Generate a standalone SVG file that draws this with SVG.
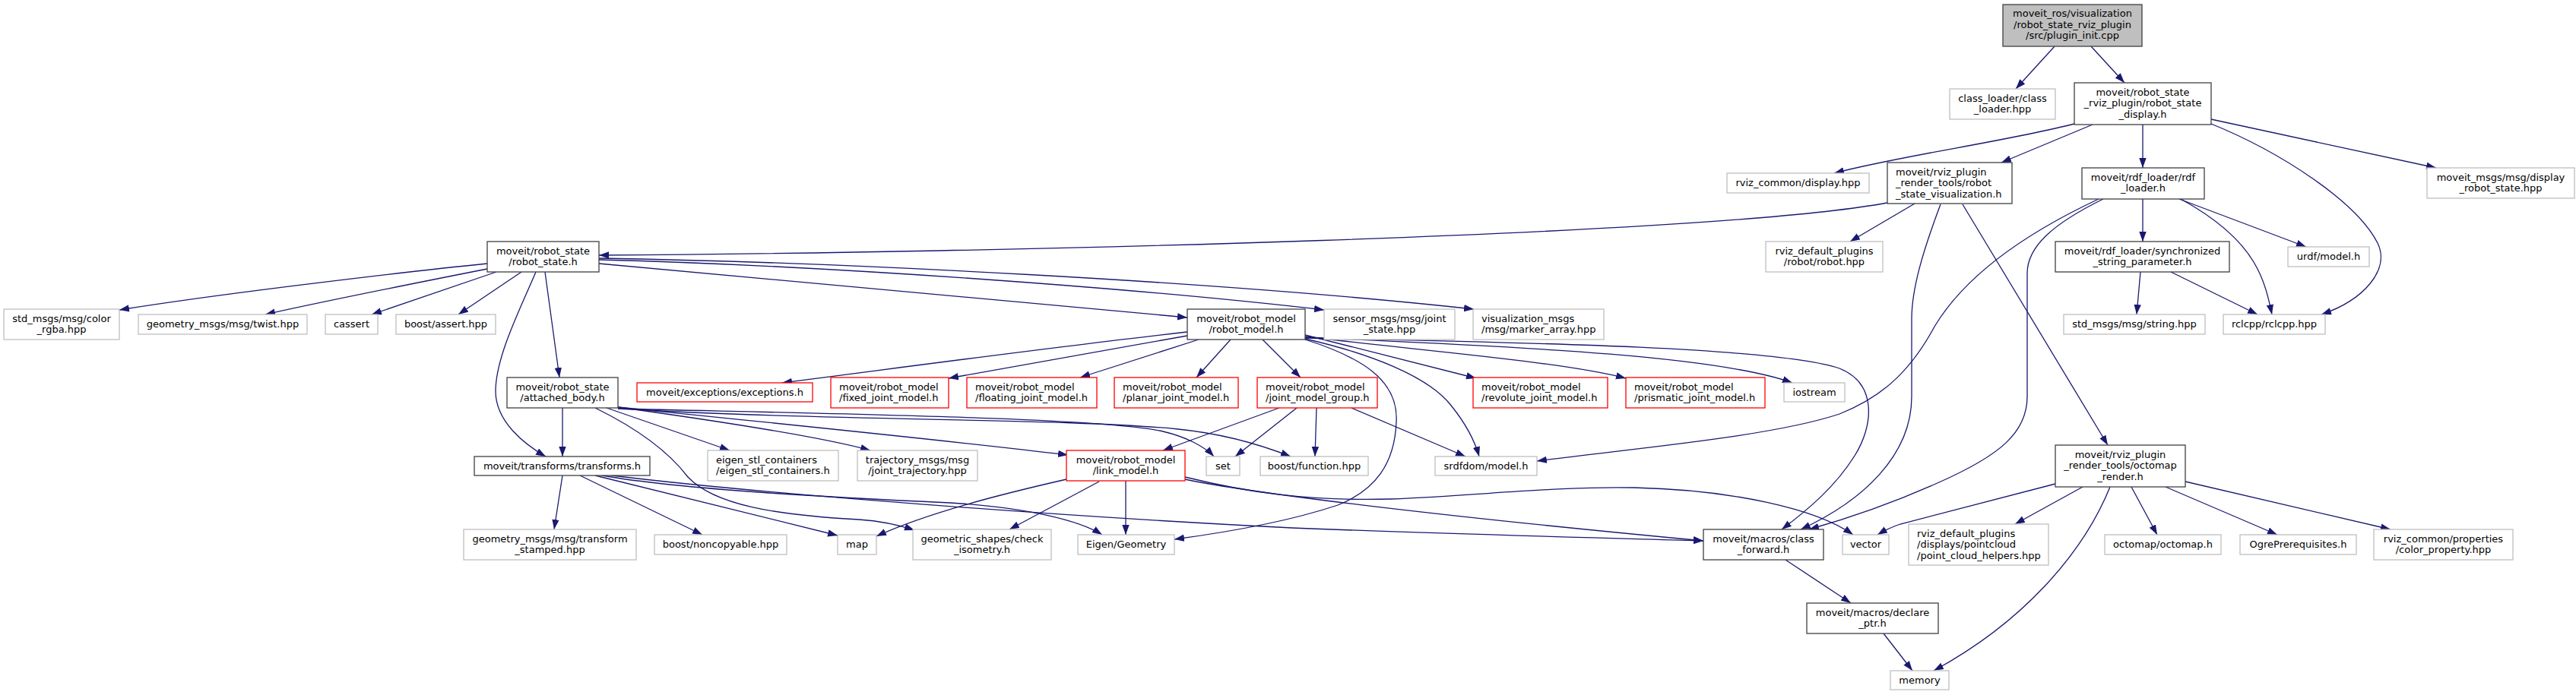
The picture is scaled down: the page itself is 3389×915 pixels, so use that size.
<svg xmlns="http://www.w3.org/2000/svg" width="3389" height="915" viewBox="0 0 3389 915">
<defs>
<style>
.n rect{fill:#fff;stroke:#404040;stroke-width:1.3}
.n.g rect{stroke:#bfbfbf}
.n.r rect{stroke:#ff0000}
.n.root rect{fill:#bfbfbf}
text{font-family:"DejaVu Sans","Liberation Sans",sans-serif;font-size:13px;fill:#000}
.c text{text-anchor:middle}
#edges path{fill:none;stroke:#191970;stroke-width:1.3;marker-end:url(#arr)}
</style>
<marker id="arr" markerUnits="userSpaceOnUse" markerWidth="14" markerHeight="10" refX="13" refY="4.7" orient="auto"><path d="M0,0L13,4.7L0,9.4z" fill="#191970"/></marker>
</defs>
<rect width="3389" height="915" fill="#fff"/>
<g id="edges">
<path d="M2703,61 L2652,117"/>
<path d="M2751,61 L2795,109"/>
<path d="M2729,163 C2640,186 2500,205 2413,228"/>
<path d="M2753,164 L2633,214"/>
<path d="M2819,164 L2819,221"/>
<path d="M2909,157 L3205,221"/>
<path d="M2909,163 C3000,200 3100,265 3128,320 C3145,355 3110,395 3054,414"/>
<path d="M2819,262 L2819,318"/>
<path d="M2867,262 L3034,325"/>
<path d="M2869,262 C2920,290 2950,320 2965,345 C2980,370 2985,395 2989,414"/>
<path d="M2761,262 C2680,300 2590,355 2545,430 C2510,495 2470,525 2420,545 C2330,575 2150,590 2022,607"/>
<path d="M2767,262 C2700,295 2667,325 2667,360 L2667,522 C2667,570 2630,600 2551,635 C2500,658 2440,680 2380,697"/>
<path d="M2483,267 C2250,310 1300,333 788,336"/>
<path d="M2519,268 L2434,318"/>
<path d="M2553,269 C2530,330 2515,380 2515,420 L2515,522 C2515,600 2450,660 2369,697"/>
<path d="M2582,269 L2773,586"/>
<path d="M2816,358 L2811,414"/>
<path d="M2856,358 L2970,414"/>
<path d="M641,347 C560,355 300,385 157,408"/>
<path d="M641,354 C560,370 420,398 349,414"/>
<path d="M653,358 L489,414"/>
<path d="M686,358 L603,414"/>
<path d="M705,358 C685,405 652,470 652,515 C652,555 690,585 718,601"/>
<path d="M717,358 L736,497"/>
<path d="M788,347 L1562,418"/>
<path d="M788,342 C1100,350 1500,380 1742,408"/>
<path d="M788,340 C1100,345 1600,370 1939,407"/>
<path d="M1562,437 C1400,455 1200,482 1029,504"/>
<path d="M1562,442 L1248,498"/>
<path d="M1577,447 L1421,497"/>
<path d="M1619,447 L1574,497"/>
<path d="M1661,447 L1711,497"/>
<path d="M1717,441 L1942,498"/>
<path d="M1717,443 C1850,460 2050,475 2139,498"/>
<path d="M1717,444 C1950,455 2250,465 2358,504"/>
<path d="M1717,446 C1800,465 1880,495 1910,535 C1930,560 1940,580 1946,601"/>
<path d="M1717,447 C1790,470 1840,500 1837,555 C1835,610 1810,645 1760,665 C1700,685 1620,700 1545,710"/>
<path d="M1717,445 C1950,450 2330,455 2420,485 C2470,505 2465,560 2440,600 C2415,640 2380,670 2344,697"/>
<path d="M740,537 L740,601"/>
<path d="M798,537 L960,593"/>
<path d="M813,536 C950,555 1080,575 1145,593"/>
<path d="M813,536 C950,550 1250,580 1405,599"/>
<path d="M813,538 C1100,545 1450,550 1530,568 C1560,575 1585,588 1597,601"/>
<path d="M813,538 C1100,555 1400,550 1550,565 C1620,572 1670,590 1698,601"/>
<path d="M783,537 C840,565 880,595 905,628 C940,665 1020,678 1130,684 C1160,686 1185,692 1203,698"/>
<path d="M740,626 L729,697"/>
<path d="M763,626 L924,704"/>
<path d="M783,626 L1102,705"/>
<path d="M792,626 C900,645 1100,655 1250,662 C1350,668 1420,685 1450,704"/>
<path d="M805,626 C1000,650 1400,680 1700,695 C1900,703 2100,708 2241,712"/>
<path d="M1403,631 C1320,650 1220,675 1153,706"/>
<path d="M1446,634 L1328,697"/>
<path d="M1481,633 L1481,704"/>
<path d="M1559,628 C1640,648 1720,660 1830,657 C1950,652 2050,640 2150,642 C2280,645 2390,670 2438,704"/>
<path d="M1559,631 C1650,650 1900,680 2241,712"/>
<path d="M1683,537 L1530,593"/>
<path d="M1706,537 L1625,601"/>
<path d="M1732,537 L1730,601"/>
<path d="M1778,537 L1928,601"/>
<path d="M2704,637 L2500,690 Q2485,695 2470,704"/>
<path d="M2740,641 L2651,690"/>
<path d="M2776,641 C2740,730 2660,820 2544,883"/>
<path d="M2804,641 L2838,704"/>
<path d="M2849,641 L2996,704"/>
<path d="M2875,634 L3145,697"/>
<path d="M2349,737 L2435,794"/>
<path d="M2478,834 L2516,883"/>
</g>
<g id="n_root" class="n c root"><rect x="2635" y="6" width="183" height="55"/><text x="2726.5" y="22">moveit_ros/visualization</text><text x="2726.5" y="36.5">/robot_state_rviz_plugin</text><text x="2726.5" y="51">/src/plugin_init.cpp</text></g>
<g id="n_class_loader" class="n c g"><rect x="2565" y="117" width="139" height="40"/><text x="2634.5" y="133.5">class_loader/class</text><text x="2634.5" y="148">_loader.hpp</text></g>
<g id="n_display_h" class="n c"><rect x="2729" y="109" width="180" height="55"/><text x="2819" y="125.5">moveit/robot_state</text><text x="2819" y="140">_rviz_plugin/robot_state</text><text x="2819" y="154.5">_display.h</text></g>
<g id="n_rviz_display" class="n c g"><rect x="2272" y="228" width="187" height="26"/><text x="2365.5" y="245">rviz_common/display.hpp</text></g>
<g id="n_rsv" class="n r0"><rect x="2483" y="214" width="164" height="54"/><text x="2494" y="230.5">moveit/rviz_plugin</text><text x="2494" y="245">_render_tools/robot</text><text x="2494" y="259.5">_state_visualization.h</text></g>
<g id="n_rdf_loader" class="n c"><rect x="2739" y="221" width="161" height="41"/><text x="2819.5" y="237.5">moveit/rdf_loader/rdf</text><text x="2819.5" y="252">_loader.h</text></g>
<g id="n_display_msg" class="n c g"><rect x="3193" y="221" width="194" height="40"/><text x="3290" y="237.5">moveit_msgs/msg/display</text><text x="3290" y="252">_robot_state.hpp</text></g>
<g id="n_rviz_robot" class="n c g"><rect x="2323" y="318" width="154" height="40"/><text x="2400" y="334.5">rviz_default_plugins</text><text x="2400" y="349">/robot/robot.hpp</text></g>
<g id="n_sync" class="n c"><rect x="2704" y="318" width="229" height="40"/><text x="2818.5" y="334.5">moveit/rdf_loader/synchronized</text><text x="2818.5" y="349">_string_parameter.h</text></g>
<g id="n_urdf" class="n c g"><rect x="3010" y="325" width="107" height="26"/><text x="3063.5" y="342">urdf/model.h</text></g>
<g id="n_std_string" class="n c g"><rect x="2715" y="414" width="186" height="26"/><text x="2808" y="431">std_msgs/msg/string.hpp</text></g>
<g id="n_rclcpp" class="n c g"><rect x="2925" y="414" width="134" height="26"/><text x="2992" y="431">rclcpp/rclcpp.hpp</text></g>
<g id="n_robot_state" class="n c"><rect x="641" y="318" width="147" height="40"/><text x="714.5" y="334.5">moveit/robot_state</text><text x="714.5" y="349">/robot_state.h</text></g>
<g id="n_color_rgba" class="n c g"><rect x="5" y="407" width="152" height="40"/><text x="81" y="423.5">std_msgs/msg/color</text><text x="81" y="438">_rgba.hpp</text></g>
<g id="n_twist" class="n c g"><rect x="182" y="414" width="222" height="26"/><text x="293" y="431">geometry_msgs/msg/twist.hpp</text></g>
<g id="n_cassert" class="n c g"><rect x="428" y="414" width="69" height="26"/><text x="462.5" y="431">cassert</text></g>
<g id="n_boost_assert" class="n c g"><rect x="521" y="414" width="131" height="26"/><text x="586.5" y="431">boost/assert.hpp</text></g>
<g id="n_robot_model" class="n c"><rect x="1562" y="407" width="155" height="40"/><text x="1639.5" y="423.5">moveit/robot_model</text><text x="1639.5" y="438">/robot_model.h</text></g>
<g id="n_joint_state" class="n c g"><rect x="1742" y="407" width="172" height="40"/><text x="1828" y="423.5">sensor_msgs/msg/joint</text><text x="1828" y="438">_state.hpp</text></g>
<g id="n_marker_array" class="n g"><rect x="1938" y="407" width="172" height="40"/><text x="1949" y="423.5">visualization_msgs</text><text x="1949" y="438">/msg/marker_array.hpp</text></g>
<g id="n_attached_body" class="n c"><rect x="667" y="497" width="146" height="40"/><text x="740" y="513.5">moveit/robot_state</text><text x="740" y="528">/attached_body.h</text></g>
<g id="n_exceptions" class="n c r"><rect x="838" y="504" width="231" height="25"/><text x="953.5" y="521">moveit/exceptions/exceptions.h</text></g>
<g id="n_fixed" class="n r"><rect x="1093" y="497" width="155" height="40"/><text x="1104" y="513.5">moveit/robot_model</text><text x="1104" y="528">/fixed_joint_model.h</text></g>
<g id="n_floating" class="n r"><rect x="1272" y="497" width="171" height="40"/><text x="1283" y="513.5">moveit/robot_model</text><text x="1283" y="528">/floating_joint_model.h</text></g>
<g id="n_planar" class="n r"><rect x="1466" y="497" width="163" height="40"/><text x="1477" y="513.5">moveit/robot_model</text><text x="1477" y="528">/planar_joint_model.h</text></g>
<g id="n_jmg" class="n r"><rect x="1654" y="497" width="158" height="40"/><text x="1665" y="513.5">moveit/robot_model</text><text x="1665" y="528">/joint_model_group.h</text></g>
<g id="n_revolute" class="n r"><rect x="1938" y="497" width="177" height="40"/><text x="1949" y="513.5">moveit/robot_model</text><text x="1949" y="528">/revolute_joint_model.h</text></g>
<g id="n_prismatic" class="n r"><rect x="2139" y="497" width="183" height="40"/><text x="2150" y="513.5">moveit/robot_model</text><text x="2150" y="528">/prismatic_joint_model.h</text></g>
<g id="n_iostream" class="n c g"><rect x="2347" y="504" width="80" height="25"/><text x="2387" y="521">iostream</text></g>
<g id="n_transforms" class="n c"><rect x="624" y="601" width="231" height="25"/><text x="739.5" y="618">moveit/transforms/transforms.h</text></g>
<g id="n_eigen_stl" class="n g"><rect x="931" y="593" width="172" height="40"/><text x="942" y="609.5">eigen_stl_containers</text><text x="942" y="624">/eigen_stl_containers.h</text></g>
<g id="n_trajectory" class="n c g"><rect x="1128" y="593" width="158" height="40"/><text x="1207" y="609.5">trajectory_msgs/msg</text><text x="1207" y="624">/joint_trajectory.hpp</text></g>
<g id="n_link_model" class="n c r"><rect x="1403" y="593" width="156" height="40"/><text x="1481" y="609.5">moveit/robot_model</text><text x="1481" y="624">/link_model.h</text></g>
<g id="n_set" class="n c g"><rect x="1587" y="601" width="44" height="25"/><text x="1609" y="618">set</text></g>
<g id="n_boost_function" class="n c g"><rect x="1658" y="601" width="142" height="25"/><text x="1729" y="618">boost/function.hpp</text></g>
<g id="n_srdfdom" class="n c g"><rect x="1888" y="601" width="134" height="25"/><text x="1955" y="618">srdfdom/model.h</text></g>
<g id="n_octomap_render" class="n c"><rect x="2704" y="586" width="171" height="55"/><text x="2789.5" y="602.5">moveit/rviz_plugin</text><text x="2789.5" y="617">_render_tools/octomap</text><text x="2789.5" y="631.5">_render.h</text></g>
<g id="n_transform_stamped" class="n c g"><rect x="610" y="697" width="227" height="40"/><text x="723.5" y="713.5">geometry_msgs/msg/transform</text><text x="723.5" y="728">_stamped.hpp</text></g>
<g id="n_noncopyable" class="n c g"><rect x="861" y="704" width="174" height="26"/><text x="948" y="721">boost/noncopyable.hpp</text></g>
<g id="n_map" class="n c g"><rect x="1102" y="704" width="51" height="26"/><text x="1127.5" y="721">map</text></g>
<g id="n_check_isometry" class="n c g"><rect x="1201" y="697" width="182" height="40"/><text x="1292" y="713.5">geometric_shapes/check</text><text x="1292" y="728">_isometry.h</text></g>
<g id="n_eigen_geometry" class="n c g"><rect x="1418" y="704" width="127" height="26"/><text x="1481.5" y="721">Eigen/Geometry</text></g>
<g id="n_class_forward" class="n c"><rect x="2241" y="697" width="158" height="40"/><text x="2320" y="713.5">moveit/macros/class</text><text x="2320" y="728">_forward.h</text></g>
<g id="n_vector" class="n c g"><rect x="2424" y="704" width="61" height="26"/><text x="2454.5" y="721">vector</text></g>
<g id="n_pointcloud" class="n g"><rect x="2511" y="690" width="184" height="54"/><text x="2522" y="706.5">rviz_default_plugins</text><text x="2522" y="721">/displays/pointcloud</text><text x="2522" y="735.5">/point_cloud_helpers.hpp</text></g>
<g id="n_octomap_h" class="n c g"><rect x="2769" y="704" width="153" height="26"/><text x="2845.5" y="721">octomap/octomap.h</text></g>
<g id="n_ogre" class="n c g"><rect x="2947" y="704" width="153" height="26"/><text x="3023.5" y="721">OgrePrerequisites.h</text></g>
<g id="n_color_property" class="n c g"><rect x="3123" y="697" width="183" height="40"/><text x="3214.5" y="713.5">rviz_common/properties</text><text x="3214.5" y="728">/color_property.hpp</text></g>
<g id="n_declare_ptr" class="n c"><rect x="2377" y="794" width="173" height="40"/><text x="2463.5" y="810.5">moveit/macros/declare</text><text x="2463.5" y="825">_ptr.h</text></g>
<g id="n_memory" class="n c g"><rect x="2487" y="883" width="77" height="25"/><text x="2525.5" y="900">memory</text></g>
</svg>
